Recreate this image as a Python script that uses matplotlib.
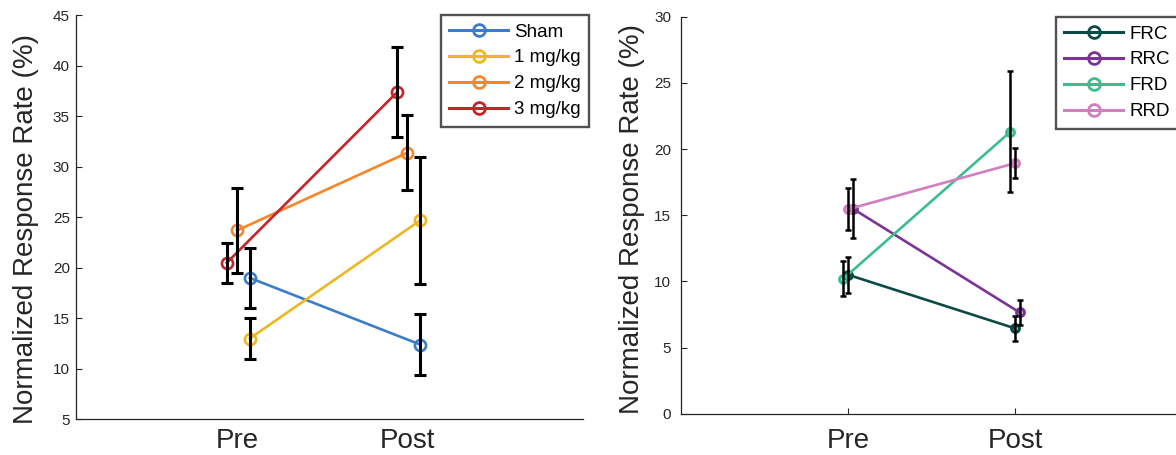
import matplotlib
matplotlib.use("Agg")
import matplotlib.pyplot as plt
from matplotlib.lines import Line2D
import numpy as np

plt.rcParams['font.family'] = ['Liberation Sans', 'DejaVu Sans']

phases = ["Pre", "Post"]

# left panel: dose groups
dose_names = ["Sham", "1 mg/kg", "2 mg/kg", "3 mg/kg"]
dose_mean = [[19.0, 12.4], [13.0, 24.7], [23.7, 31.4], [20.5, 37.4]]
dose_err = [[2.95, 3.0], [2.05, 6.3], [4.2, 3.7], [2.0, 4.45]]
dose_shift = [0.075, 0.075, 0.0, -0.06]
dose_colors = ["#3D7CC9", "#EDB623", "#F7862A", "#C8232B"]

# right panel: schedule groups
sched_names = ["FRC", "RRC", "FRD", "RRD"]
sched_mean = [[10.5, 6.45], [15.5, 7.65], [10.2, 21.3], [15.45, 18.93]]
sched_err = [[1.35, 0.97], [2.2, 0.94], [1.32, 4.58], [1.57, 1.13]]
sched_shift = [0.0, 0.028, -0.028, 0.0]
sched_colors = ["#0B4B45", "#7C3494", "#3DBD8E", "#D17FC0"]

axis_col = "#262626"
W, H = 1176, 455

fig = plt.figure(figsize=(W / 100, H / 100), dpi=100)


def px_axes(x0, x1, y_top, y_bot):
    return fig.add_axes([x0 / W, 1 - y_bot / H, (x1 - x0) / W, (y_bot - y_top) / H])


def style_axes(ax):
    for s in ["top", "right"]:
        ax.spines[s].set_visible(False)
    for s in ["left", "bottom"]:
        ax.spines[s].set_color(axis_col)
        ax.spines[s].set_linewidth(0.9)
    ax.tick_params(colors=axis_col, labelcolor=axis_col, width=0.8)


def add_legend(ax, names, colors, x_px, y_px):
    handles = [Line2D([], [], color=c, lw=2.2, marker='o', ms=8.5, mfc='none',
                      mec=c, mew=2.0) for c in colors]
    leg = ax.legend(handles, names, loc='upper left',
                    bbox_to_anchor=(x_px / W, 1 - y_px / H),
                    bbox_transform=fig.transFigure, fontsize=13.5, frameon=True,
                    fancybox=False, handlelength=3.1, handletextpad=0.35,
                    labelspacing=0.47, borderpad=0.45, borderaxespad=0)
    leg.get_frame().set_edgecolor(axis_col)
    leg.get_frame().set_linewidth(1.7)
    return leg


# ---- left panel ----
ax1 = px_axes(76, 583, 15.3, 419.3)
x = np.array([1, 2])
for i in range(len(dose_names)):
    xs = x + dose_shift[i]
    ax1.plot(xs, dose_mean[i], color=dose_colors[i], lw=1.9, marker='o', ms=8,
             mfc='none', mec=dose_colors[i], mew=1.9, zorder=2)
for i in range(len(dose_names)):
    xs = x + dose_shift[i]
    ax1.errorbar(xs, dose_mean[i], yerr=dose_err[i], fmt='none', ecolor='black',
                 elinewidth=2.2, capsize=4.5, capthick=2.2, zorder=3)
ax1.set_xlim(0.055, 3.03)
ax1.set_ylim(5, 45)
ax1.set_yticks(np.arange(5, 46, 5))
ax1.set_xticks(x)
ax1.set_xticklabels(phases, fontsize=20)
style_axes(ax1)
ax1.tick_params(axis='y', direction='in', length=4, labelsize=11, pad=4.5)
ax1.tick_params(axis='x', length=0, pad=6.5)
ax1.set_ylabel("Normalized Response Rate (%)", fontsize=20, color=axis_col)
ax1.yaxis.set_label_coords(-0.072, 0.47)
add_legend(ax1, dose_names, dose_colors, 441, 15)

# ---- right panel ----
ax2 = px_axes(681, 1182, 16.7, 413.7)
for i in range(len(sched_names)):
    xs = x + sched_shift[i]
    ax2.plot(xs, sched_mean[i], color=sched_colors[i], lw=1.9, marker='o', ms=5.5,
             mfc='none', mec=sched_colors[i], mew=2.3, zorder=2)
for i in range(len(sched_names)):
    xs = x + sched_shift[i]
    ax2.errorbar(xs, sched_mean[i], yerr=sched_err[i], fmt='none', ecolor='black',
                 elinewidth=1.8, capsize=2, capthick=1.8, zorder=3)
ax2.set_xlim(0, 3)
ax2.set_ylim(0, 30)
ax2.set_yticks(np.arange(0, 31, 5))
ax2.set_xticks(x)
ax2.set_xticklabels(phases, fontsize=20)
style_axes(ax2)
ax2.tick_params(axis='y', direction='in', length=4, labelsize=11, pad=7)
ax2.tick_params(axis='x', direction='in', length=4, pad=10)
ax2.set_ylabel("Normalized Response Rate (%)", fontsize=20, color=axis_col)
ax2.yaxis.set_label_coords(-0.072, 0.49)
add_legend(ax2, sched_names, sched_colors, 1056, 17)

fig.savefig("out.png", dpi=100)
